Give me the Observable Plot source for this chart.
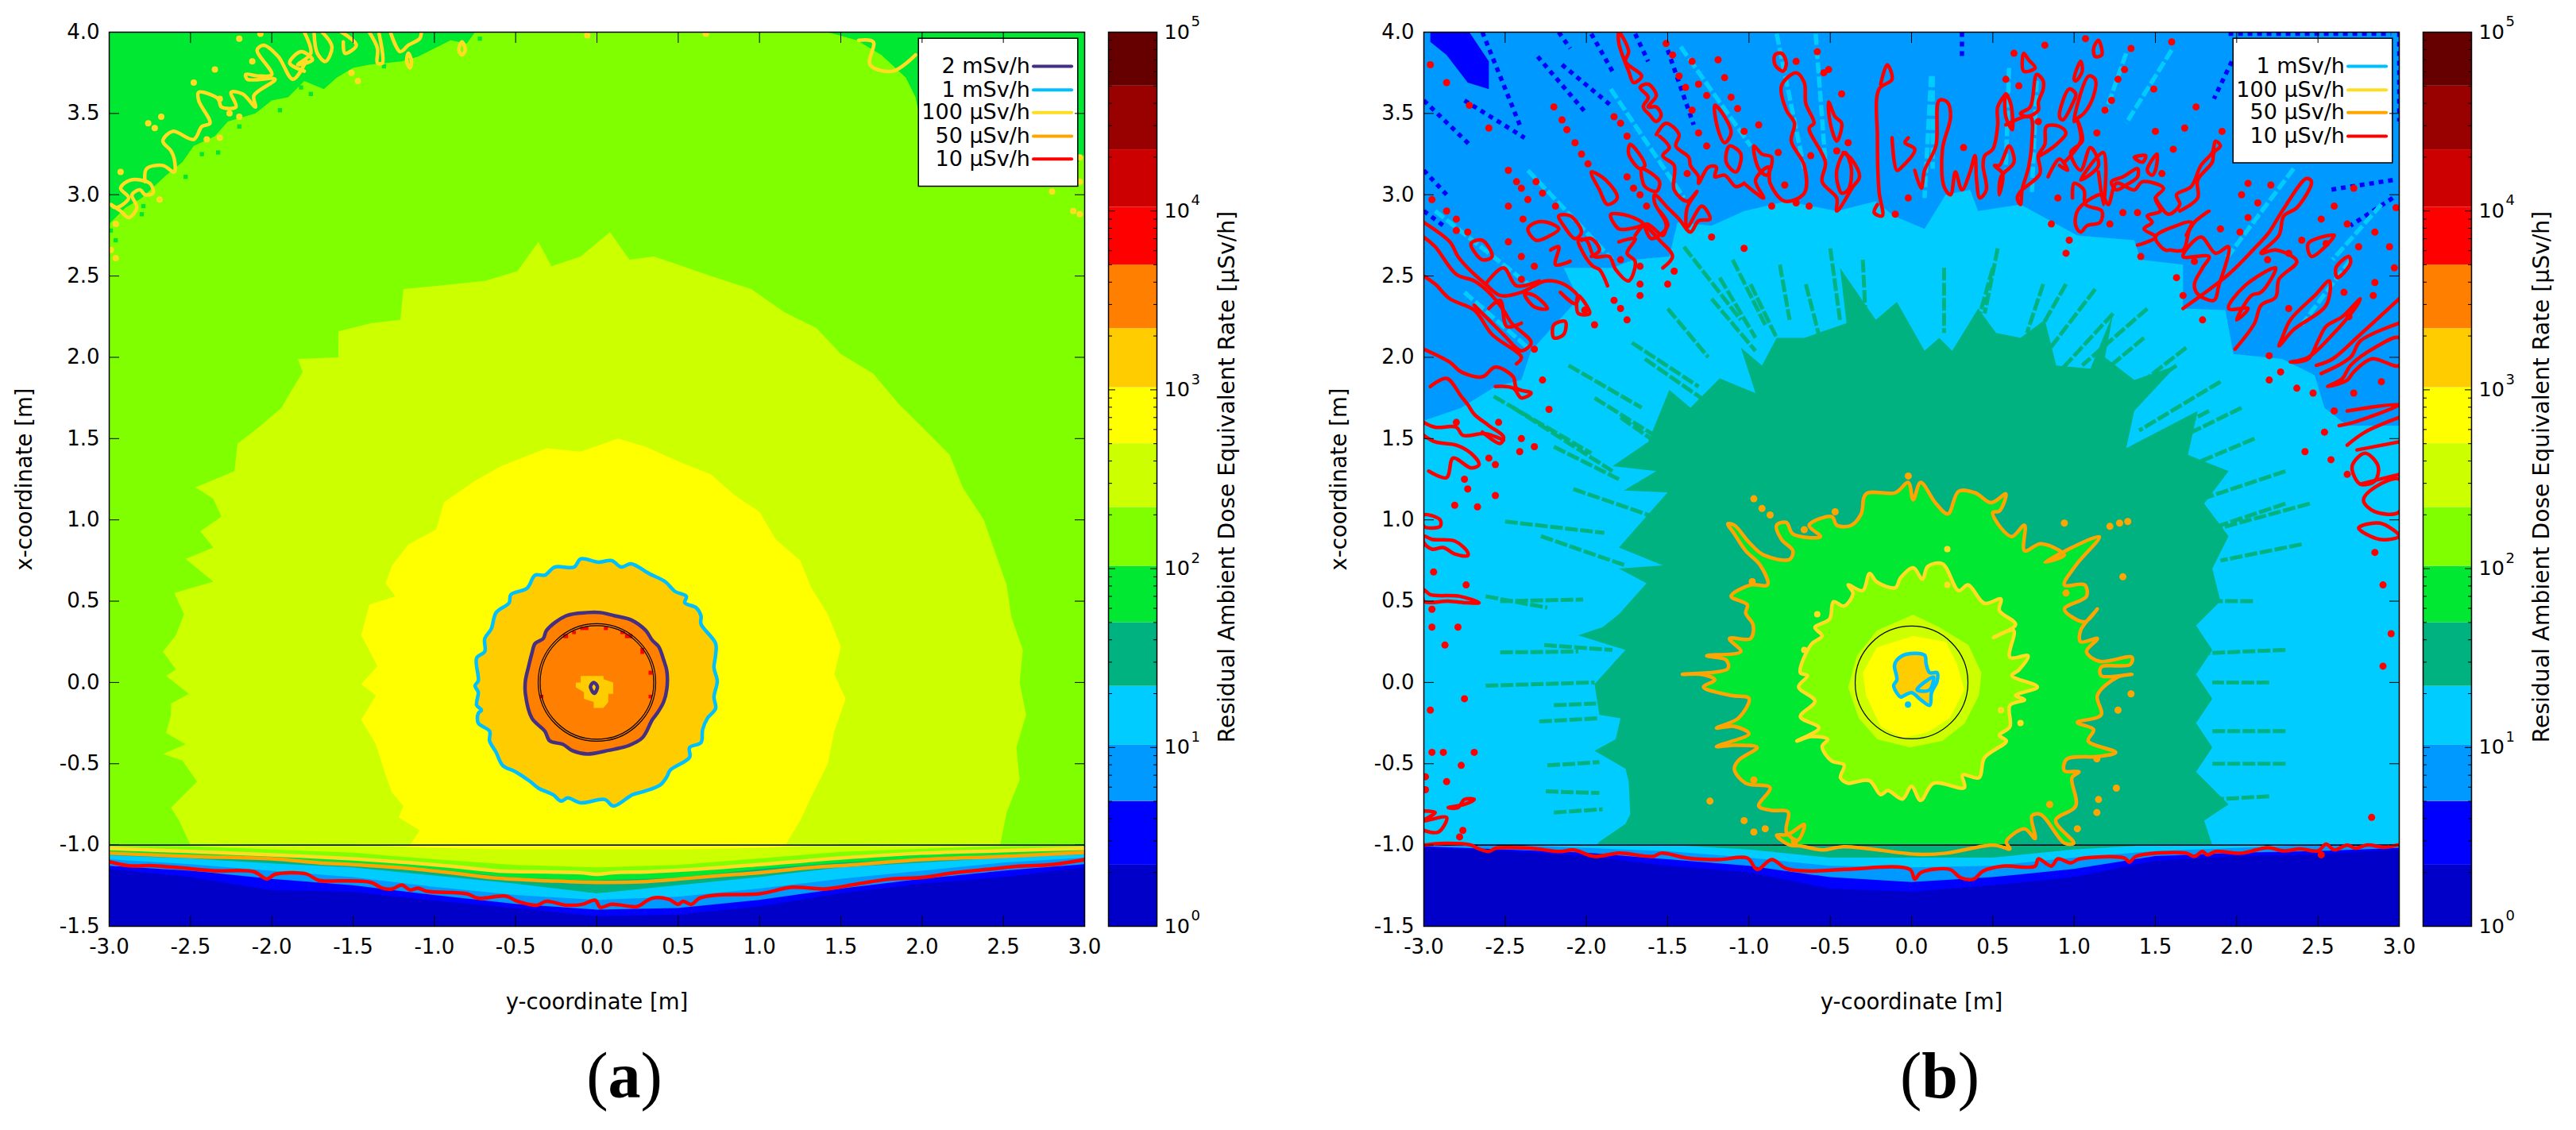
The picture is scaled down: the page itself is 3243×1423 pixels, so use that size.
<!DOCTYPE html>
<html><head><meta charset="utf-8">
<script src="https://cdn.jsdelivr.net/npm/d3@7"></script>
<script src="https://cdn.jsdelivr.net/npm/@observablehq/plot@0.6"></script>
<style>
html,body{margin:0;background:#fff;width:3243px;height:1423px;overflow:hidden}
#stage{position:relative;width:3243px;height:1423px}
#stage>svg,#stage>figure{position:absolute;top:0;margin:0}
.cap{position:absolute;top:1308px;font-family:"Liberation Serif",serif;font-size:82px;transform:translateX(-50%);color:#000}
</style></head><body><div id="stage"></div>
<script>
// ---- axes and colour scale ----
const xTicks=[-3,-2.5,-2,-1.5,-1,-0.5,0,0.5,1,1.5,2,2.5,3];
const yTicks=[-1.5,-1,-0.5,0,0.5,1,1.5,2,2.5,3,3.5,4];
const cbLevels=[1,2.2,5,10.3,22,50,103,220,500,1030,2200,5000,10500,22000,50000,100000];
const cbColors=["#0000c8","#0000ff","#0099ff","#00ccff","#00b27f","#00e832","#7fff00","#ccff00","#ffff00","#ffcc00","#ff7f00","#ff0000","#cc0000","#990000","#660000"];
const cbMajor=[1,10,100,1000,10000,100000];
const cbExponents=["0","1","2","3","4","5"];
const cbMinor=[2,3,4,5,6,7,8,9,20,30,40,50,60,70,80,90,200,300,400,500,600,700,800,900,2000,3000,4000,5000,6000,7000,8000,9000,20000,30000,40000,50000,60000,70000,80000,90000];
const legendA=["2 mSv/h","1 mSv/h","100 μSv/h","50 μSv/h","10 μSv/h"];
const legendAColors=["#452f82","#00bfff","#ffdd22","#ffa500","#ff0000"];
const legendARows=[3.79,3.645,3.505,3.36,3.22];
const legendB=["1 mSv/h","100 μSv/h","50 μSv/h","10 μSv/h"];
const legendBColors=["#00bfff","#ffdd22","#ffa500","#ff0000"];
const legendBRows=[3.79,3.645,3.505,3.36];
const PURPLE="#452f82",SKY="#00bfff",YEL="#ffdd22",ORG="#ffa500",RED="#ff0000";

// ---- strip below the wall: band boundaries along y ----
const stripX=[-3,-2.5,-2,-1.5,-1,-0.5,0,0.5,1,1.5,2,2.5,3];
const aStrip=[
["#0000ff",[-1.15,-1.2,-1.28,-1.29,-1.345,-1.39,-1.44,-1.43,-1.38,-1.3,-1.24,-1.2,-1.14]],
["#0099ff",[-1.13,-1.16,-1.21,-1.25,-1.31,-1.365,-1.4,-1.39,-1.34,-1.27,-1.21,-1.16,-1.12]],
["#00ccff",[-1.09,-1.12,-1.16,-1.2,-1.26,-1.31,-1.34,-1.32,-1.27,-1.21,-1.16,-1.11,-1.08]],
["#00b27f",[-1.065,-1.085,-1.115,-1.14,-1.19,-1.24,-1.3,-1.25,-1.2,-1.14,-1.11,-1.08,-1.06]],
["#00e832",[-1.05,-1.065,-1.09,-1.11,-1.15,-1.205,-1.22,-1.205,-1.15,-1.11,-1.085,-1.06,-1.045]],
["#7fff00",[-1.035,-1.05,-1.065,-1.09,-1.13,-1.16,-1.175,-1.16,-1.125,-1.085,-1.06,-1.045,-1.03]],
["#ccff00",[-1,-1.01,-1.03,-1.05,-1.09,-1.125,-1.14,-1.125,-1.085,-1.045,-1.025,-1.01,-1]],
["#ffff00",[-1,-1,-1,-1,-1.02,-1.03,-1.03,-1.03,-1.02,-1,-1,-1,-1]]];
const bStrip=[
["#0000ff",[-1.02,-1.04,-1.07,-1.13,-1.17,-1.27,-1.29,-1.25,-1.2,-1.1,-1.07,-1.06,-1.03]],
["#0099ff",[-1.01,-1.03,-1.05,-1.09,-1.13,-1.2,-1.23,-1.2,-1.15,-1.07,-1.05,-1.04,-1.02]],
["#00ccff",[-1,-1,-1.02,-1.04,-1.08,-1.13,-1.14,-1.13,-1.08,-1.04,-1.02,-1,-1]],
["#00b27f",[-1,-1,-1,-1,-1.03,-1.08,-1.08,-1.08,-1.03,-1,-1,-1,-1]]];

// ---- panel (a) regions ----
const aCornerL=[[-3,4],[-3,2.82],[-2.9,2.92],[-2.8,2.98],[-2.65,3.12],[-2.55,3.2],[-2.48,3.3],[-2.35,3.36],[-2.27,3.45],[-2.1,3.5],[-2,3.58],[-1.9,3.6],[-1.8,3.7],[-1.68,3.65],[-1.6,3.72],[-1.5,3.78],[-1.4,3.8],[-1.2,3.82],[-1.1,3.85],[-1,3.9],[-0.9,3.95],[-0.8,3.93],[-0.75,4]];
const aCornerR=[[1.42,4],[1.6,3.95],[1.75,3.86],[1.9,3.72],[1.96,3.6],[2,3.4],[2.3,3.1],[2.86,3.05],[2.92,3.15],[3,3.25],[3,4]];
const aDarkCells=[[-2.54,3.81],[-2.51,3.75],[-2.48,3.69],[-2.17,3.91],[-1.71,3.76],[-1.82,3.66],[-1.51,3.86],[-1.31,3.79],[-0.84,3.99],[-0.72,3.96],[-2.33,3.26],[-2.53,3.26],[-2.53,3.11],[-2.8,2.88],[-2.79,2.93],[-2.96,2.72],[-2.99,2.78],[-2.43,3.25],[-2.2,3.42],[-1.95,3.52],[-1.76,3.62]];
const aBand220=[[-2.5,-1],[-2.57,-0.85],[-2.62,-0.77],[-2.46,-0.61],[-2.55,-0.48],[-2.67,-0.44],[-2.53,-0.38],[-2.65,-0.31],[-2.62,-0.2],[-2.62,-0.13],[-2.51,-0.07],[-2.65,0.04],[-2.59,0.08],[-2.67,0.19],[-2.59,0.29],[-2.54,0.42],[-2.6,0.55],[-2.36,0.62],[-2.53,0.76],[-2.36,0.83],[-2.44,0.93],[-2.31,1.02],[-2.36,1.13],[-2.47,1.2],[-2.23,1.3],[-2.21,1.47],[-2.08,1.57],[-1.94,1.69],[-1.9,1.76],[-1.81,1.91],[-1.84,1.99],[-1.59,2],[-1.59,2.16],[-1.39,2.21],[-1.21,2.23],[-1.19,2.42],[-0.99,2.44],[-0.69,2.47],[-0.49,2.53],[-0.36,2.71],[-0.28,2.56],[-0.1,2.62],[0.08,2.77],[0.2,2.6],[0.35,2.62],[0.5,2.57],[0.7,2.5],[0.95,2.42],[1.15,2.28],[1.35,2.18],[1.5,2.02],[1.7,1.9],[1.85,1.72],[2.02,1.55],[2.17,1.4],[2.25,1.2],[2.38,1],[2.45,0.8],[2.52,0.6],[2.55,0.4],[2.62,0.2],[2.6,0],[2.64,-0.2],[2.58,-0.4],[2.6,-0.6],[2.52,-0.8],[2.48,-1]];
const aBand500=[[-1.15,-1],[-1.09,-0.91],[-1.22,-0.83],[-1.19,-0.76],[-1.26,-0.68],[-1.3,-0.57],[-1.36,-0.38],[-1.45,-0.23],[-1.36,-0.08],[-1.45,-0.01],[-1.35,0.1],[-1.45,0.29],[-1.4,0.48],[-1.24,0.53],[-1.3,0.61],[-1.26,0.72],[-1.16,0.85],[-0.99,0.94],[-0.94,1.11],[-0.75,1.24],[-0.59,1.33],[-0.31,1.44],[-0.1,1.42],[0.13,1.5],[0.3,1.45],[0.5,1.36],[0.7,1.28],[0.85,1.15],[1,1.05],[1.1,0.88],[1.25,0.75],[1.32,0.58],[1.42,0.42],[1.5,0.22],[1.46,0.05],[1.53,-0.1],[1.46,-0.3],[1.42,-0.5],[1.32,-0.7],[1.25,-0.85],[1.16,-1]];
const aContour1m=[[-0.1,0.76],[0.01,0.74],[0.09,0.75],[0.15,0.71],[0.21,0.73],[0.32,0.67],[0.42,0.62],[0.48,0.56],[0.55,0.53],[0.54,0.49],[0.61,0.46],[0.64,0.41],[0.64,0.36],[0.73,0.24],[0.73,0.17],[0.72,0.09],[0.74,0.01],[0.72,-0.09],[0.73,-0.16],[0.68,-0.22],[0.65,-0.29],[0.64,-0.37],[0.57,-0.4],[0.57,-0.46],[0.45,-0.54],[0.43,-0.58],[0.39,-0.63],[0.29,-0.67],[0.22,-0.69],[0.1,-0.76],[0.05,-0.72],[-0.1,-0.74],[-0.18,-0.71],[-0.22,-0.73],[-0.27,-0.69],[-0.36,-0.65],[-0.41,-0.61],[-0.5,-0.55],[-0.58,-0.51],[-0.62,-0.43],[-0.66,-0.36],[-0.66,-0.3],[-0.73,-0.25],[-0.73,-0.19],[-0.71,-0.17],[-0.74,-0.14],[-0.73,-0.06],[-0.75,-0.02],[-0.73,0.01],[-0.74,0.15],[-0.69,0.19],[-0.69,0.27],[-0.65,0.33],[-0.62,0.43],[-0.54,0.49],[-0.53,0.54],[-0.43,0.58],[-0.38,0.66],[-0.32,0.66],[-0.26,0.71],[-0.14,0.71]];
const aContour2m=[[-0.06,0.43],[0.02,0.43],[0.11,0.41],[0.21,0.385],[0.3,0.32],[0.34,0.26],[0.38,0.22],[0.41,0.14],[0.43,0.07],[0.43,-0.04],[0.41,-0.12],[0.37,-0.19],[0.34,-0.23],[0.28,-0.34],[0.19,-0.39],[0.11,-0.41],[0.06,-0.42],[-0.06,-0.44],[-0.15,-0.42],[-0.21,-0.38],[-0.29,-0.36],[-0.32,-0.3],[-0.4,-0.22],[-0.44,-0.07],[-0.44,0.01],[-0.42,0.1],[-0.4,0.18],[-0.38,0.24],[-0.33,0.27],[-0.31,0.32],[-0.19,0.41]];
const aCoreBlob=[[-0.1,0.04],[0.04,0.04],[0.04,0.02],[0.1,0],[0.1,-0.07],[0.07,-0.07],[0.07,-0.12],[0.04,-0.157],[-0.02,-0.157],[-0.02,-0.12],[-0.08,-0.1],[-0.08,-0.06],[-0.13,-0.03],[-0.13,0],[-0.1,0]];
const aCoreContour=[[-0.02,0],[0.003,-0.026],[-0.016,-0.067],[-0.04,-0.026]];
const aRedCells=[[-0.1,-0.05,0.32,0.34],[0.045,0.07,0.32,0.34],[-0.15,-0.127,0.295,0.315],[-0.205,-0.175,0.27,0.295],[0.147,0.175,0.295,0.315],[0.175,0.22,0.27,0.295],[0.27,0.293,0.173,0.21],[0.32,0.342,0.045,0.07],[0.32,0.342,-0.1,-0.078],[-0.35,-0.327,-0.1,-0.078]];
// wall-strip contours in (a)
const aRed10=[[-3,-1.103],[-2.88,-1.127],[-2.73,-1.127],[-2.56,-1.14],[-2.36,-1.158],[-2.11,-1.164],[-2.03,-1.209],[-1.98,-1.18],[-1.79,-1.177],[-1.71,-1.218],[-1.58,-1.22],[-1.39,-1.23],[-1.32,-1.265],[-1.26,-1.27],[-1.2,-1.246],[-1.15,-1.276],[-1.1,-1.265],[-1.05,-1.284],[-0.8,-1.3],[-0.73,-1.327],[-0.56,-1.314],[-0.49,-1.346],[-0.37,-1.37],[-0.31,-1.346],[-0.19,-1.37],[-0.09,-1.365],[-0.01,-1.34],[0.02,-1.383],[0.09,-1.365],[0.21,-1.378],[0.25,-1.378],[0.34,-1.327],[0.44,-1.333],[0.5,-1.365],[0.53,-1.346],[0.58,-1.365],[0.63,-1.327],[0.73,-1.308],[1,-1.3],[1.2,-1.26],[1.4,-1.27],[1.6,-1.24],[1.8,-1.21],[2,-1.2],[2.2,-1.17],[2.4,-1.15],[2.6,-1.13],[2.8,-1.12],[3,-1.09]];
const aOrange50=[[-3,-1.05],[-2.5,-1.07],[-2,-1.085],[-1.7,-1.11],[-1.5,-1.12],[-1.2,-1.14],[-0.9,-1.17],[-0.6,-1.205],[-0.3,-1.22],[0,-1.23],[0.3,-1.225],[0.5,-1.21],[0.73,-1.19],[1,-1.17],[1.3,-1.14],[1.6,-1.12],[2,-1.09],[2.5,-1.07],[3,-1.045]];
const aYellow100=[[-3,-1.02],[-2.5,-1.04],[-2,-1.06],[-1.5,-1.085],[-1.2,-1.105],[-0.9,-1.13],[-0.6,-1.16],[-0.3,-1.165],[-0.1,-1.17],[0,-1.18],[0.1,-1.17],[0.3,-1.165],[0.6,-1.15],[1,-1.12],[1.5,-1.08],[2,-1.05],[2.5,-1.035],[3,-1.02]];
const aYellowPaths=[
[[-2.78,3.08],[-2.77,3.16],[-2.67,3.18],[-2.6,3.14],[-2.6,3.22],[-2.62,3.27],[-2.67,3.33],[-2.61,3.39],[-2.48,3.34],[-2.43,3.42],[-2.38,3.44],[-2.45,3.58],[-2.45,3.63],[-2.33,3.59],[-2.31,3.54],[-2.22,3.54],[-2.25,3.63],[-2.18,3.62],[-2.1,3.54],[-2.11,3.61],[-1.98,3.71],[-2.15,3.71],[-2.16,3.74],[-2.08,3.73],[-2,3.74],[-2.09,3.89],[-2.05,3.92],[-1.96,3.85],[-1.87,3.71],[-1.79,3.82]],
[[-1.8,4],[-1.76,3.87],[-1.84,3.8],[-1.75,3.83],[-1.82,3.88],[-1.89,3.81],[-1.8,3.76]],
[[-1.69,4],[-1.63,3.91],[-1.67,3.82],[-1.72,3.87],[-1.74,4]],
[[-1.57,4],[-1.48,3.92],[-1.55,3.87],[-1.56,3.94]],
[[-1.4,4],[-1.35,3.9],[-1.35,3.81],[-1.32,3.81],[-1.34,3.99]],
[[-1.27,4],[-1.21,3.88],[-1.16,3.92],[-1.09,3.96],[-1.08,4]],
[[1.61,3.95],[1.7,3.94],[1.68,3.8],[1.82,3.76],[1.96,3.86]]];
const aYellowLoops=[
[[-2.99,2.94],[-2.96,2.92],[-2.88,2.98],[-2.93,3.04],[-2.87,3.09],[-2.75,3.07],[-2.73,3.01],[-2.78,3],[-2.81,3.03],[-2.86,3],[-2.83,2.92],[-2.88,2.86],[-2.93,2.9]],
[[-1.16,3.87],[-1.14,3.82],[-1.15,3.78],[-1.17,3.82]],
[[-0.83,3.94],[-0.81,3.89],[-0.83,3.86],[-0.85,3.89]]];
const aYellowDots=[[-2.2,3.96],[-2.07,3.99],[-2.12,3.82],[-2.35,3.77],[-2.48,3.69],[-2.32,3.59],[-2.2,3.48],[-2.26,3.5],[-2.68,3.48],[-2.76,3.44],[-2.72,3.41],[-2.32,3.35],[-2.4,3.34],[-2.93,3.14],[-2.69,2.97],[-2.96,2.82],[-2.96,2.61],[-2.99,2.66],[-1.47,3.7],[-1.51,3.75],[-0.06,3.98],[0.67,3.99],[2.97,3.23],[2.97,3.08],[2.93,2.9],[2.97,2.88],[2.8,3.02]];

// ---- panel (b) regions ----
const bBand10=[[-3,1.61],[-2.77,1.69],[-2.56,1.82],[-2.4,1.86],[-2.34,2.04],[-2.05,2.36],[-2.14,2.55],[-1.84,2.55],[-1.71,2.6],[-1.49,2.62],[-1.44,2.83],[-1.23,2.81],[-1.03,2.9],[-0.77,2.96],[-0.46,2.9],[-0.22,2.96],[-0.11,2.87],[0.08,2.79],[0.21,3],[0.36,3.03],[0.41,2.9],[0.67,2.94],[1.02,2.75],[1.37,2.72],[1.41,2.6],[1.67,2.57],[1.67,2.3],[1.93,2.29],[1.98,2.02],[2.28,1.99],[2.48,1.89],[2.54,1.69],[2.68,1.58],[3,1.58],[3,-1],[-3,-1]];
const bBand22=[[-1.94,-1],[-1.92,-0.98],[-1.76,-0.87],[-1.73,-0.81],[-1.74,-0.61],[-1.76,-0.53],[-1.95,-0.42],[-1.82,-0.35],[-1.79,-0.22],[-1.92,-0.2],[-1.95,-0.01],[-1.85,0.1],[-1.76,0.2],[-2.05,0.29],[-1.9,0.34],[-1.8,0.42],[-1.63,0.61],[-1.8,0.7],[-1.53,0.72],[-1.8,0.83],[-1.5,1.17],[-1.77,1.18],[-1.57,1.3],[-1.84,1.33],[-1.62,1.48],[-1.49,1.8],[-1.36,1.69],[-1.18,1.87],[-0.96,1.78],[-1.05,2.06],[-0.92,1.95],[-0.83,2.12],[-0.66,2.12],[-0.4,2.21],[-0.44,2.55],[-0.22,2.23],[-0.09,2.34],[0.08,2.04],[0.17,2.12],[0.25,2.04],[0.41,2.3],[0.52,2.15],[0.67,2.12],[0.82,2.23],[0.89,1.95],[1.1,1.93],[1.24,2.27],[1.19,2],[1.37,1.86],[1.63,1.95],[1.37,1.67],[1.32,1.44],[1.76,1.67],[1.7,1.4],[1.95,1.3],[1.8,1.1],[1.95,0.9],[1.85,0.7],[1.9,0.5],[1.75,0.35],[1.85,0.2],[1.75,0.05],[1.85,-0.1],[1.75,-0.25],[1.85,-0.4],[1.75,-0.55],[1.95,-0.75],[1.8,-0.85],[1.85,-1]];
const bOrange50=[[-0.75,-1],[-0.83,-0.94],[-0.76,-0.935],[-0.66,-0.874],[-0.7,-0.97],[-0.77,-0.92],[-0.76,-0.796],[-0.86,-0.787],[-0.94,-0.76],[-0.87,-0.647],[-1.02,-0.62],[-1.09,-0.534],[-1.065,-0.48],[-0.95,-0.4],[-1.09,-0.386],[-1.2,-0.394],[-1,-0.316],[-1.09,-0.27],[-1.2,-0.28],[-1.065,-0.22],[-1,-0.098],[-1.11,-0.08],[-1.28,-0.028],[-1.21,0.016],[-1.29,0.05],[-1.41,0.05],[-1.13,0.085],[-1.14,0.138],[-1.26,0.164],[-1.05,0.19],[-1.12,0.27],[-0.99,0.27],[-0.975,0.356],[-1.02,0.426],[-1.01,0.478],[-1.11,0.53],[-0.99,0.6],[-0.886,0.6],[-0.93,0.72],[-1.02,0.81],[-1.09,0.914],[-1.13,0.976],[-1.09,0.967],[-1,0.862],[-0.91,0.784],[-0.75,0.757],[-0.73,0.81],[-0.8,0.88],[-0.83,0.967],[-0.77,0.984],[-0.73,0.914],[-0.56,0.897],[-0.63,0.967],[-0.49,1.02],[-0.46,0.967],[-0.37,0.967],[-0.31,1.037],[-0.28,1.16],[-0.1,1.167],[-0.02,1.23],[0.01,1.124],[0.056,1.23],[0.146,1.106],[0.224,1.037],[0.29,1.176],[0.39,1.167],[0.49,1.106],[0.58,1.16],[0.54,1.054],[0.5,1.045],[0.55,0.95],[0.617,0.897],[0.695,0.967],[0.695,0.81],[0.796,0.853],[0.94,0.784],[0.82,0.74],[1.155,0.897],[1.01,0.72],[0.94,0.6],[1.065,0.6],[1.076,0.53],[0.94,0.452],[1.065,0.373],[1.143,0.452],[1.04,0.32],[1.04,0.25],[1.143,0.27],[1.076,0.19],[1.155,0.13],[1.356,0.155],[1.345,0.11],[1.166,0.094],[1.166,0.042],[1.356,0.05],[1.267,0.033],[1.143,-0.08],[1.166,-0.2],[1.02,-0.246],[1.12,-0.29],[1.087,-0.36],[1.256,-0.43],[1.155,-0.455],[0.953,-0.473],[0.94,-0.543],[1.03,-0.55],[0.987,-0.586],[1.01,-0.76],[0.886,-0.848],[0.998,-0.988],[0.94,-0.988],[0.796,-0.813],[0.74,-0.82],[0.76,-0.96],[0.695,-0.9],[0.583,-0.98],[0.605,-1.023],[0.505,-1],[0.213,-1.05],[0.034,-1.057],[-0.415,-1.01],[-0.55,-1.03],[-0.684,-1.005]];
const bYellow100=[[-0.706,-0.36],[-0.57,-0.28],[-0.684,-0.21],[-0.594,-0.115],[-0.695,-0.028],[-0.64,0.042],[-0.684,0.06],[-0.617,0.234],[-0.55,0.286],[-0.594,0.339],[-0.504,0.39],[-0.48,0.496],[-0.415,0.47],[-0.36,0.548],[-0.39,0.6],[-0.3,0.565],[-0.258,0.67],[-0.213,0.618],[-0.1,0.583],[-0.067,0.644],[0.011,0.705],[0.067,0.635],[0.1,0.714],[0.19,0.73],[0.29,0.565],[0.348,0.6],[0.448,0.487],[0.55,0.513],[0.54,0.443],[0.64,0.356],[0.504,0.277],[0.628,0.32],[0.605,0.155],[0.717,0.164],[0.66,0.077],[0.617,0.042],[0.774,-0.028],[0.64,-0.08],[0.695,-0.106],[0.605,-0.141],[0.605,-0.272],[0.54,-0.325],[0.583,-0.36],[0.448,-0.464],[0.415,-0.586],[0.314,-0.569],[0.325,-0.647],[0.135,-0.62],[0.056,-0.726],[0,-0.639],[-0.056,-0.717],[-0.146,-0.665],[-0.19,-0.69],[-0.258,-0.604],[-0.348,-0.613],[-0.39,-0.62],[-0.437,-0.586],[-0.415,-0.508],[-0.493,-0.482],[-0.55,-0.394],[-0.516,-0.35],[-0.617,-0.333]];
const bBand220=[[0.01,0.417],[0.17,0.34],[0.35,0.23],[0.43,0.06],[0.415,-0.08],[0.325,-0.255],[0.19,-0.36],[-0.01,-0.4],[-0.21,-0.35],[-0.325,-0.22],[-0.39,-0.03],[-0.336,0.164],[-0.213,0.32]];
const bBand500=[[0.01,0.286],[0.213,0.25],[0.28,0.11],[0.325,-0.045],[0.235,-0.22],[0.1,-0.307],[-0.056,-0.342],[-0.19,-0.272],[-0.28,-0.08],[-0.3,0.06],[-0.213,0.216]];
const bSky1m=[[-0.09,0.138],[-0.034,0.173],[0.08,0.168],[0.09,0.112],[0.112,0.06],[0.157,0.06],[0.157,0.007],[0.123,-0.063],[0.112,-0.141],[0.056,-0.106],[0,-0.063],[-0.045,-0.08],[-0.067,-0.089],[-0.11,-0.019],[-0.09,0.016],[-0.105,0.103]];
const bSkyInner=[[0.034,-0.045],[0.1,0.016],[0.135,0.033],[0.112,-0.045],[0.067,-0.054]];
const bSkyDots=[[-0.022,-0.136]];
const bGreenRays=[[-1.4,2.68,-1.05,2.23],[-0.81,2.57,-0.75,2.23],[-0.5,2.67,-0.44,2.23],[-1.18,2.49,-0.96,2.12],[-1.72,2.09,-1.31,1.82],[-2.11,1.95,-1.66,1.69],[-2.57,1.76,-1.97,1.41],[-2.45,1.69,-1.84,1.3],[-1.79,1.63,-1.36,1.33],[-1.64,1.99,-1.18,1.67],[-1.23,2.36,-0.96,2.04],[-0.99,2.45,-0.83,2.12],[-0.65,2.45,-0.55,2.06],[0.53,2.67,0.45,2.27],[0.5,2.55,0.41,2.23],[0.81,2.45,0.71,2.15],[1.13,2.42,0.84,2.04],[1.24,2.27,0.89,1.89],[1.43,2.12,1,1.76],[1.69,2.06,1.19,1.67],[1.63,1.95,1.11,1.59],[2.03,1.69,1.5,1.43],[2.11,1.5,1.54,1.26],[1.83,1.67,1.28,1.39],[-2.62,-0.02,-1.95,0],[-2.53,0.185,-2.05,0.19],[-2.53,0.5,-2.02,0.51],[-2.62,0.53,-2.24,0.46],[-2.26,0.23,-1.84,0.2],[-2.2,-0.14,-1.94,-0.13],[-2.29,-0.24,-1.92,-0.22],[-2.24,-0.51,-1.92,-0.49],[-2.25,-0.67,-1.92,-0.68],[-2.2,-0.8,-1.9,-0.78],[-2.5,0.99,-1.89,0.92],[-2.28,0.9,-1.76,0.72],[-2.08,1.19,-1.59,1.02],[2.1,0.5,1.8,0.5],[2.3,0.2,1.8,0.18],[2.2,0,1.85,0],[2.3,-0.3,1.85,-0.3],[2.3,-0.5,1.85,-0.5],[2.2,-0.7,1.85,-0.72],[2.4,0.85,1.9,0.75],[2.3,1.1,1.85,0.95],[-1.5,2.3,-1.25,2],[-1.95,1.75,-1.55,1.5],[-2.2,1.45,-1.8,1.25],[-1.1,2.6,-0.9,2.2],[-0.3,2.6,-0.28,2.2],[0.2,2.55,0.2,2.15],[0.95,2.45,0.75,2.1],[1.45,2.3,1.05,1.95],[1.9,1.85,1.4,1.55],[2.3,1.3,1.7,1.1],[2.45,1.1,1.9,0.95]];
const bSkyRays=[[-0.83,3.99,-0.66,3.16],[-0.59,3.99,-0.53,3.2],[0.13,3.73,0.13,3.16],[-1.85,3.65,-1.4,2.98],[-1.42,3.91,-0.99,3.3],[-2.36,3.15,-1.84,2.6],[-2.93,2.9,-2.32,2.42],[0.12,3.73,0.08,2.98],[0.6,3.78,0.58,3.16],[1.6,3.89,1.32,3.44],[1.32,3.87,1.19,3.5],[2.35,3.16,1.93,2.6],[2.89,2.94,2.59,2.6],[0.77,3.7,0.74,3],[-2.75,2.4,-2.35,2.05],[2.7,2.6,2.4,2.2]];
const bBlueBlock=[[-2.96,4],[-2.72,4],[-2.6,3.82],[-2.6,3.65],[-2.73,3.69],[-2.86,3.86],[-2.96,3.94]];
const bBlueRays=[[-2.64,4,-2.41,3.43],[-2.17,4,-2.1,3.9],[-2.3,3.85,-2,3.5],[-2.15,3.8,-1.85,3.55],[-3,3.15,-2.86,3],[-3,2.9,-2.88,2.81],[-3,3.58,-2.71,3.3],[-2.75,3.58,-2.38,3.35],[-1.5,3.89,-1.34,3.43],[-1.7,3.99,-1.62,3.82],[-1.97,3.99,-1.84,3.76],[0.31,4,0.31,3.83],[1.97,3.82,1.86,3.59],[3,4,3,3.45],[2.96,3.09,2.57,3.03],[2.96,2.98,2.7,2.81],[1.95,3.99,2.95,3.99]];
const bRedBase=[[-3,-1],[-2.87,-0.99],[-2.71,-1],[-2.67,-1.02],[-2.6,-1.04],[-2.56,-1.02],[-2.34,-1.02],[-2.16,-1.04],[-2.08,-1.03],[-1.95,-1.07],[-1.8,-1.05],[-1.59,-1.07],[-1.54,-1.05],[-1.38,-1.08],[-1.19,-1.09],[-1.01,-1.08],[-0.95,-1.15],[-0.86,-1.09],[-0.77,-1.145],[-0.62,-1.16],[-0.41,-1.15],[-0.01,-1.15],[0.02,-1.21],[0.056,-1.17],[0.235,-1.15],[0.3,-1.2],[0.38,-1.21],[0.44,-1.16],[0.56,-1.13],[0.76,-1.13],[0.78,-1.085],[0.86,-1.13],[0.9,-1.085],[0.98,-1.11],[1.03,-1.086],[1.31,-1.08],[1.34,-1.105],[1.38,-1.07],[1.69,-1.05],[1.74,-1.07],[1.79,-1.04],[1.82,-1.06],[1.87,-1.04],[2.03,-1.05],[2.19,-1.016],[2.29,-1.036],[2.39,-1.024],[2.5,-1.036],[2.55,-0.995],[2.6,-1.03],[2.68,-1],[2.73,-1.02],[2.8,-1],[2.91,-1.013],[2.99,-1]];
const bRedLoops=[
[[-1.8,4],[-1.74,3.88],[-1.76,3.82],[-1.66,3.73],[-1.71,3.69],[-1.74,3.76],[-1.8,3.93]],
[[-1.67,3.66],[-1.62,3.68],[-1.57,3.61],[-1.62,3.54],[-1.57,3.54],[-1.54,3.49],[-1.57,3.45],[-1.61,3.49],[-1.65,3.54],[-1.62,3.6]],
[[-1.73,3.31],[-1.64,3.18],[-1.67,3.16],[-1.74,3.25]],
[[-1.66,3.16],[-1.55,3.08],[-1.57,3.02],[-1.64,3.05],[-1.66,3.11]],
[[-1.97,3.14],[-1.88,3.09],[-1.81,2.98],[-1.87,2.94],[-1.92,3.03]],
[[-1.85,2.88],[-1.74,2.87],[-1.65,2.82],[-1.74,2.79],[-1.8,2.79],[-1.85,2.86]],
[[-0.84,3.86],[-0.8,3.87],[-0.77,3.81],[-0.79,3.76],[-0.84,3.8]],
[[-0.51,3.57],[-0.47,3.48],[-0.43,3.44],[-0.46,3.33],[-0.5,3.44]],
[[-0.46,3.15],[-0.41,3.26],[-0.37,3.16],[-0.39,3.03],[-0.43,3.01],[-0.45,3.05]],
[[-1.21,3.55],[-1.15,3.48],[-1.11,3.38],[-1.15,3.32],[-1.19,3.4]],
[[-1.12,3.3],[-1.05,3.25],[-1.08,3.14],[-1.14,3.2]],
[[-0.97,3.3],[-0.92,3.25],[-0.86,3.23],[-0.89,3.12],[-0.94,3.16]],
[[-2.05,2.38],[-2,2.32],[-1.98,2.27],[-2.05,2.27]],
[[-2.38,2.39],[-2.32,2.38],[-2.24,2.3],[-2.32,2.31]],
[[-2.2,2.2],[-2.13,2.22],[-2.14,2.14],[-2.2,2.12]],
[[-2.36,2.79],[-2.31,2.83],[-2.24,2.83],[-2.17,2.79],[-2.24,2.74],[-2.31,2.72]],
[[-2.17,2.87],[-2.1,2.87],[-2.03,2.77],[-2.07,2.73],[-2.14,2.81]],
[[-2.71,2.7],[-2.64,2.6],[-2.58,2.62],[-2.64,2.72]],
[[-3,1.03],[-2.9,1],[-2.9,0.96],[-3,0.96]],
[[-3,0.9],[-2.95,0.88],[-2.81,0.87],[-2.73,0.8],[-2.73,0.78],[-2.81,0.79],[-2.88,0.83],[-2.95,0.82],[-3,0.86]],
[[-3,0.57],[-2.96,0.54],[-2.78,0.53],[-2.66,0.49],[-2.73,0.49],[-2.85,0.5],[-3,0.5]],
[[-2.85,-0.77],[-2.79,-0.77],[-2.75,-0.72],[-2.69,-0.72],[-2.75,-0.75]],
[[0.72,3.83],[0.76,3.78],[0.69,3.76],[0.69,3.87]],
[[0.58,3.62],[0.61,3.56],[0.62,3.4],[0.58,3.48]],
[[0.54,3.18],[0.6,3.3],[0.63,3.2],[0.55,3.11],[0.54,3],[0.56,3.13],[0.51,3.18]],
[[0.67,3.5],[0.73,3.54],[0.77,3.74],[0.81,3.7],[0.81,3.65],[0.78,3.57],[0.78,3.52],[0.71,3.48]],
[[1,3.71],[1.04,3.82],[1.05,3.76],[1.01,3.7]],
[[0.91,3.48],[0.97,3.65],[1.01,3.62],[0.99,3.56],[0.93,3.46]],
[[1,3.45],[1.09,3.73],[1.13,3.71],[1.12,3.61],[1.06,3.5],[1.02,3.47]],
[[1.15,3.95],[1.17,3.86],[1.13,3.85],[1.12,3.9]],
[[1.23,3.08],[1.3,3.11],[1.39,3.16],[1.39,3.11],[1.32,3.06],[1.26,3.03]],
[[1.37,3.23],[1.44,3.24],[1.42,3.2]],
[[1.45,3.15],[1.51,3.25],[1.5,3.15],[1.48,3.12]],
[[1.56,2.66],[1.5,2.74],[1.63,2.81],[1.72,2.83],[1.69,2.75],[1.74,2.83],[1.83,2.9],[1.72,2.81],[1.67,2.66],[1.59,2.66]],
[[1.67,2.62],[1.78,2.74],[1.87,2.64],[1.95,2.68],[1.89,2.44],[1.86,2.35],[1.76,2.39],[1.74,2.45],[1.79,2.55],[1.83,2.62]],
[[1.95,2.3],[2.05,2.44],[2.24,2.55],[2.15,2.4],[2.09,2.38],[2,2.23],[2.07,2.3]],
[[2.26,2.07],[2.35,2.17],[2.55,2.32],[2.57,2.47],[2.48,2.38],[2.33,2.23],[2.28,2.12]],
[[2.33,1.97],[2.44,2],[2.59,2.14],[2.74,2.32],[2.76,2.36],[2.65,2.25],[2.55,2.19],[2.5,2.1],[2.44,1.99]],
[[2.56,1.82],[2.65,1.87],[2.7,1.95],[2.85,2.06],[3,2.12],[3,1.95],[2.83,1.99],[2.72,1.91],[2.68,1.86]],
[[2.61,2.55],[2.69,2.62],[2.7,2.58],[2.62,2.49]],
[[2.44,2.7],[2.6,2.75],[2.46,2.62]],
[[2.71,1.33],[2.79,1.41],[2.87,1.33],[2.85,1.24],[2.76,1.22]],
[[2.78,1.12],[2.85,1.2],[3,1.25],[3,1.05],[2.85,1.05]],
[[2.75,0.95],[2.88,0.98],[3,0.9],[2.88,0.88]]];
const bRedPaths=[
[[-1.55,3.36],[-1.49,3.29],[-1.53,3.24],[-1.46,3.18],[-1.46,3.03],[-1.38,2.96],[-1.32,3.02],[-1.38,2.92],[-1.38,2.8],[-1.29,2.93],[-1.24,2.85],[-1.31,2.84],[-1.36,2.77],[-1.43,2.85],[-1.5,2.92],[-1.58,3],[-1.58,2.95],[-1.51,2.82],[-1.53,2.75],[-1.63,2.82],[-1.7,2.75]],
[[-1.57,3.37],[-1.51,3.44],[-1.43,3.37],[-1.45,3.3],[-1.37,3.23],[-1.36,3.18],[-1.31,3.11],[-1.31,3.07],[-1.25,3.17],[-1.2,3.17],[-1.21,3.11],[-1.15,3.12],[-1.08,3.05],[-1.03,3.07]],
[[-1.8,2.71],[-1.7,2.73],[-1.75,2.64],[-1.7,2.59],[-1.74,2.47],[-1.82,2.54],[-1.86,2.62],[-1.95,2.62],[-2,2.72],[-2.05,2.72],[-2.03,2.66],[-1.96,2.56],[-1.92,2.54],[-1.87,2.44]],
[[-1.55,2.9],[-1.5,2.81],[-1.6,2.73],[-1.64,2.81],[-1.55,2.72],[-1.47,2.62],[-1.53,2.55]],
[[-3,2.83],[-2.84,2.71],[-2.79,2.62],[-2.73,2.55],[-2.62,2.45],[-2.53,2.38],[-2.4,2.4],[-2.25,2.47],[-2.14,2.45],[-2.05,2.37],[-2.07,2.33],[-2.16,2.4]],
[[-3,2.74],[-2.93,2.68],[-2.8,2.51],[-2.69,2.47],[-2.6,2.4],[-2.51,2.29],[-2.46,2.21],[-2.34,2.09],[-2.4,2.04],[-2.51,2.14],[-2.6,2.23],[-2.69,2.32]],
[[-3,2.5],[-2.93,2.45],[-2.84,2.36],[-2.69,2.29],[-2.58,2.14],[-2.4,2],[-2.43,1.96]],
[[-3,2.05],[-2.84,1.97],[-2.77,1.91],[-2.64,1.88],[-2.56,1.94],[-2.45,1.88],[-2.43,1.81],[-2.34,1.78],[-2.4,1.75],[-2.45,1.81],[-2.56,1.82]],
[[-2.96,1.82],[-2.86,1.87],[-2.77,1.76],[-2.73,1.71],[-2.69,1.65],[-2.6,1.58],[-2.51,1.51],[-2.53,1.47],[-2.64,1.54]],
[[-3,1.6],[-2.93,1.57],[-2.8,1.57],[-2.76,1.52],[-2.62,1.53],[-2.51,1.49]],
[[-3,1.52],[-2.93,1.48],[-2.8,1.46],[-2.71,1.41],[-2.66,1.34],[-2.71,1.32],[-2.82,1.38],[-2.86,1.26],[-2.97,1.3]],
[[-2.03,2.72],[-1.97,2.73],[-1.92,2.66],[-1.97,2.62]],
[[-2.22,2.66],[-2.17,2.68],[-2.19,2.57],[-2.1,2.59]],
[[-2.62,2.45],[-2.51,2.55],[-2.43,2.44],[-2.29,2.47]],
[[-2.6,2.3],[-2.53,2.35],[-2.49,2.19],[-2.4,2.21]],
[[-0.42,3.26],[-0.37,3.22],[-0.32,3.11],[-0.36,3.05],[-0.46,2.9],[-0.46,2.98],[-0.55,3.08],[-0.53,3.2],[-0.63,3.41],[-0.6,3.44],[-0.65,3.56],[-0.66,3.69],[-0.71,3.75],[-0.8,3.67],[-0.77,3.52],[-0.72,3.44],[-0.74,3.33],[-0.66,3.18],[-0.66,3.01],[-0.78,2.96],[-0.87,3.07],[-0.88,3.17],[-0.96,3.09],[-0.91,2.98],[-0.97,3.02],[-1.03,3.07]],
[[-0.21,2.94],[-0.23,2.89],[-0.18,2.87],[-0.2,3.02],[-0.21,3.35],[-0.2,3.65],[-0.12,3.71],[-0.15,3.8],[-0.19,3.68]],
[[-0.12,3.35],[-0.09,3.15],[-0.06,3.17],[0.02,3.28],[-0.04,3.32],[-0.02,3.35]],
[[0.02,3.15],[0.06,3.04],[0.08,3.15],[0.15,3.3],[0.17,3.58],[0.22,3.57],[0.24,3.48],[0.19,3.28],[0.2,3.05],[0.24,3],[0.27,3.14],[0.31,3.03],[0.36,3.14],[0.39,3.24],[0.4,3.09],[0.42,2.98],[0.46,3.03],[0.44,3.18],[0.45,3.24],[0.5,3.28],[0.53,3.43],[0.53,3.54],[0.58,3.62]],
[[0.58,3.43],[0.73,3.48],[0.74,3.33],[0.72,3.17],[0.68,3.03],[0.67,2.94],[0.65,2.98],[0.67,3.02],[0.79,3.13],[0.78,3.24],[0.82,3.31],[0.83,3.42],[0.91,3.42],[0.95,3.38],[0.88,3.3],[0.79,3.24]],
[[0.84,3.11],[0.91,3.22],[0.96,3.15],[0.91,3.18]],
[[0.94,3.2],[1.04,3.33],[1.02,3.46],[1.05,3.33],[0.98,3.26],[1.04,3.15],[1.1,3.29],[1.15,3.18],[1.04,3.09],[1.18,3.26],[1.18,2.94],[1.15,3.14]],
[[0.99,2.98],[1,3.07],[1.06,3.03],[1.07,2.94],[1.17,2.9],[1.16,2.83],[1.08,2.81],[1.04,2.77],[1.01,2.81],[1.02,2.9],[1.11,2.98],[1.17,3],[1.21,2.94],[1.26,3.07],[1.37,3.03],[1.42,3.08],[1.55,3.04],[1.5,2.98],[1.53,2.9],[1.45,2.87],[1.48,2.83],[1.43,2.79],[1.5,2.74],[1.39,2.69]],
[[1.5,2.98],[1.58,2.88],[1.65,2.94],[1.63,3],[1.72,3.05],[1.78,3.18],[1.85,3.26],[1.87,3.33],[1.9,3.3],[1.86,3.26],[1.85,3.2],[1.76,3.09],[1.76,2.98],[1.65,2.9]],
[[1.67,2.3],[1.95,2.51],[2.1,2.66],[2.2,2.77],[2.28,2.9],[2.43,3.1],[2.46,3.08],[2.37,2.92],[2.29,2.87],[2.26,2.75],[2.15,2.64],[2.24,2.66],[2.37,2.59],[2.26,2.48],[2.24,2.37],[2.15,2.32],[2.11,2.21],[1.99,2.05]],
[[2.49,1.95],[2.59,1.99],[2.76,2.14],[3,2.36]],
[[2.52,1.9],[2.7,2],[2.76,2.1],[3,2.21]],
[[2.63,1.58],[2.72,1.6],[3,1.71],[2.68,1.67]],
[[2.68,1.46],[2.79,1.54],[3,1.63]],
[[3,1.48],[2.74,1.43]],
[[3,1.28],[2.76,1.22]],
[[-3,-0.79],[-2.93,-0.8],[-3,-0.85],[-2.86,-0.83],[-2.91,-0.92],[-3,-0.91]]];
const bRedDots=[[-0.58,3.88],[-0.51,3.77],[-1.19,3.83],[-1.15,3.72],[-1.11,3.6],[-1.07,3.53],[-1.03,3.39],[-1.35,3.82],[-1.39,3.66],[-1.43,3.73],[-1.31,3.68],[-1.26,3.61],[-1.35,3.52],[-1.31,3.38],[-1.26,3.3],[-1.38,3.13],[-1.47,3.86],[-1.51,3.93],[-2.2,3.54],[-2.15,3.46],[-2.12,3.4],[-2.07,3.32],[-2.03,3.25],[-1.99,3.19],[-1.83,3.48],[-1.79,3.44],[-1.75,3.36],[-1.75,3.11],[-1.71,3.04],[-1.67,3],[-1.63,2.93],[-2.48,3.15],[-2.43,3.08],[-2.4,3.04],[-2.31,3.08],[-2.36,2.97],[-2.27,3.01],[-2.19,2.93],[-2.39,2.85],[-2.48,2.93],[-2.72,3.55],[-2.6,3.41],[-2.86,3.69],[-2.96,3.8],[-2.95,2.97],[-2.86,2.9],[-2.8,2.85],[-2.8,2.78],[-2.73,2.77],[-2.48,2.71],[-2.4,2.62],[-2.32,2.56],[-2.4,2.48],[-2.01,2.29],[-1.95,2.2],[-1.83,2.35],[-1.79,2.3],[-1.75,2.23],[-1.67,2.45],[-1.67,2.38],[-1.5,2.45],[-1.46,2.53],[-1.67,2.56],[-1.79,2.6],[-1.23,2.74],[-1.03,2.67],[-0.78,3.06],[-0.71,2.95],[-0.63,2.93],[-0.86,2.93],[-0.62,3.24],[-0.82,3.26],[-0.46,3.27],[-0.39,3.32],[-0.43,3.62],[-0.54,3.75],[-0.71,3.82],[-0.1,2.88],[-0.02,2.98],[-0.94,3.43],[-2.32,2.05],[-2.27,1.86],[-2.4,1.5],[-2.32,1.45],[-2.41,1.42],[-2.6,1.38],[-2.56,1.34],[-2.75,1.25],[-2.23,1.68],[-2.54,1.6],[-2.8,1.6],[-2.73,1.19],[-2.81,1.09],[-2.67,1.08],[-2.56,1.15],[-2.94,0.68],[-2.74,0.6],[-2.95,0.45],[-2.95,0.34],[-2.79,0.34],[-2.87,0.23],[-2.75,-0.1],[-2.96,-0.17],[-2.95,-0.43],[-2.88,-0.43],[-2.69,-0.43],[-2.77,-0.51],[-2.99,-0.58],[-2.86,-0.61],[-2.99,-0.66],[-2.78,-0.95],[-2.76,-0.91],[0.58,3.71],[0.66,3.67],[0.63,3.87],[0.82,3.92],[1.07,3.96],[1.35,3.9],[1.31,3.77],[1.27,3.71],[1.23,3.58],[1.19,3.52],[1.14,3.38],[1.49,3.65],[1.6,3.94],[1.75,3.54],[1.68,3.41],[1.5,3.39],[1.91,3.39],[1.61,3.28],[1.54,3.13],[1.9,2.79],[2.02,2.77],[2.07,2.86],[2.13,2.95],[2.03,3],[2.07,3.07],[2.21,3.06],[2.52,2.85],[2.6,2.93],[2.68,2.82],[2.4,2.72],[2.75,2.68],[2.85,2.77],[2.94,2.68],[2.55,2.7],[2.98,2.92],[2.72,3.04],[2.32,2.64],[2.19,2.6],[2.85,2.46],[2.97,2.55],[2.66,2.4],[2.84,2.38],[2.69,2.25],[2.32,2.3],[2.27,1.91],[2.2,2.01],[2.2,1.86],[2.37,1.81],[2.47,1.78],[2.72,1.78],[2.89,1.85],[2.6,1.67],[2.54,1.54],[2.42,1.42],[2.58,1.37],[2.68,1.28],[1.67,2.38],[1.79,2.23],[1.41,2.62],[1.63,2.49],[1.74,2.59],[0.86,2.82],[1.22,2.82],[1.3,2.89],[1.39,2.89],[0.9,2.98],[0.97,2.72],[0.95,2.64],[0.32,3.29],[0.78,3.45],[2.83,-0.83],[2.9,0.6],[2.85,0.8],[2.95,0.3],[2.9,0.1],[2.52,-1.06]];
const bOrangeDots=[[-0.97,1.13],[-0.92,1.07],[-0.87,1.03],[-0.66,0.94],[-0.47,1.05],[-0.02,1.27],[-0.72,-0.98],[0.94,0.98],[1.22,0.96],[1.28,0.98],[1.33,0.99],[1.35,-0.07],[1.27,-0.17],[1.3,0.65],[0.95,0.55],[-1.24,-0.73],[-0.97,-0.6],[-1.03,-0.85],[-0.9,-0.9],[0.85,-0.75],[1.15,-0.72],[1.14,-0.8],[1.02,-0.9],[-0.97,-0.92],[-0.98,0.62],[1.26,-0.65],[1.14,-0.47]];
const bYellowDots=[[-0.58,0.42],[-0.66,0.2],[0.55,-0.17],[0.67,-0.25],[0.22,0.6],[0.22,0.82]];

// ---- helpers that hand the arrays above to Plot ----
const px=d=>d[0],py=d=>d[1];
const poly=(pts,fill,curve="linear")=>Plot.line(pts,{x:px,y:py,fill,stroke:"none",curve,clip:true});
const rows=(list)=>list.flatMap((pts,i)=>pts.map(p=>({x:p[0],y:p[1],z:i})));
const lines=(list,stroke,closed,w=4.5)=>Plot.line(rows(list),{x:"x",y:"y",z:"z",stroke,strokeWidth:w,curve:closed?"catmull-rom-closed":"catmull-rom",strokeLinejoin:"round",strokeLinecap:"round",clip:true});
const dots=(pts,fill,r=4)=>Plot.dot(pts,{x:px,y:py,r,fill,stroke:"none",clip:true});
const rays=(segs,stroke,w=5.5,dash="10 3")=>Plot.link(segs,{x1:d=>d[0],y1:d=>d[1],x2:d=>d[2],y2:d=>d[3],stroke,strokeWidth:w,strokeDasharray:dash,clip:true});
const strip=(layers)=>layers.map(([fill,b])=>Plot.area(stripX.map((x,i)=>({x,top:-1,y:b[i]})),{x1:"x",y1:"top",y2:"y",fill}));
const fillBox=(fill,y1,y2)=>Plot.rect([0],{x1:()=>-3,x2:()=>3,y1:()=>y1,y2:()=>y2,fill});

const TXT=26,TITLE=27.5,CBTITLE=28.2;
function frameMarks(){return [
  Plot.axisX(xTicks,{anchor:"bottom",tickSize:-13,tickFormat:()=>"",label:null}),
  Plot.axisX(xTicks,{anchor:"top",tickSize:-13,tickFormat:()=>"",label:null}),
  Plot.axisY(yTicks,{anchor:"left",tickSize:-13,tickFormat:()=>"",label:null}),
  Plot.axisY(yTicks,{anchor:"right",tickSize:-13,tickFormat:()=>"",label:null}),
  Plot.axisX(xTicks,{anchor:"bottom",tickSize:0,tickPadding:16,tickFormat:d=>d.toFixed(1),fontSize:TXT,label:null}),
  Plot.axisY(yTicks,{anchor:"left",tickSize:0,tickPadding:12,tickFormat:d=>d.toFixed(1),fontSize:TXT,label:null}),
  Plot.text(["y-coordinate [m]"],{x:()=>0,y:()=>-1.5,dy:96,text:d=>d,fontSize:TITLE,fill:"#000",clip:false}),
  Plot.text(["x-coordinate [m]"],{x:()=>-3,y:()=>1.25,dx:-106,rotate:-90,text:d=>d,fontSize:TITLE,fill:"#000"}),
  Plot.frame({stroke:"#000",strokeWidth:1.5})];}
function legendMarks(labels,colors,rowsY,y2){return [
  Plot.rect([0],{x1:()=>1.98,x2:()=>2.96,y1:()=>y2,y2:()=>3.96,fill:"#fff",stroke:"#000",strokeWidth:1.5}),
  Plot.text(labels,{x:()=>2.665,y:(d,i)=>rowsY[i],text:d=>d,textAnchor:"end",fontSize:27,fill:"#000"}),
  Plot.link(labels,{x1:()=>2.685,x2:()=>2.92,y1:(d,i)=>rowsY[i],y2:(d,i)=>rowsY[i],stroke:(d,i)=>colors[i],strokeWidth:4,strokeLinecap:"round"})];}
function panel(marks){return Plot.plot({width:1405,height:1423,marginLeft:137,marginRight:40,marginTop:40,marginBottom:257,
  style:{fontFamily:"'DejaVu Sans'",fontSize:"26px",background:"transparent"},
  x:{domain:[-3,3],label:null},y:{domain:[-1.5,4],label:null},marks});}
function colorbar(){const bands=cbColors.map((c,i)=>({c,lo:cbLevels[i],hi:cbLevels[i+1]}));
  return Plot.plot({width:220,height:1423,marginLeft:15,marginRight:144,marginTop:40,marginBottom:257,
  style:{fontFamily:"'DejaVu Sans'",fontSize:"26px",background:"transparent"},
  x:{domain:[0,1],axis:null},y:{type:"log",domain:[1,100000],label:null,axis:null},
  marks:[Plot.rect(bands,{x1:()=>0,x2:()=>1,y1:"lo",y2:"hi",fill:"c"}),
   Plot.axisY(cbMajor,{anchor:"left",tickSize:-9,tickFormat:()=>"",label:null}),
   Plot.axisY(cbMinor,{anchor:"left",tickSize:-5,tickFormat:()=>"",label:null}),
   Plot.axisY(cbMinor,{anchor:"right",tickSize:-5,tickFormat:()=>"",label:null}),
   Plot.axisY(cbMajor,{anchor:"right",tickSize:-9,tickFormat:()=>"",label:null}),
   Plot.text(cbMajor,{x:()=>1,y:d=>d,dx:9,text:()=>"10",textAnchor:"start",fontSize:25.5,fill:"#000"}),
   Plot.text(cbMajor,{x:()=>1,y:d=>d,dx:43,dy:-13,text:(d,i)=>cbExponents[i],textAnchor:"start",fontSize:18,fill:"#000"}),
   Plot.text(["Residual Ambient Dose Equivalent Rate [μSv/h]"],{x:()=>1,y:()=>326,dx:88,rotate:-90,text:d=>d,fontSize:CBTITLE,fill:"#000"}),
   Plot.frame({stroke:"#000",strokeWidth:1.5})]});}

const panelA=panel([
  fillBox("#7fff00",-1,4),
  poly(aCornerL,"#00e832"),poly(aCornerR,"#00e832"),
  Plot.dot(aDarkCells,{x:px,y:py,symbol:"square",r:3,fill:"#00e832",clip:true}),
  poly(aBand220,"#ccff00"),poly(aBand500,"#ffff00"),
  poly(aContour1m,"#ffcc00","catmull-rom-closed"),poly(aContour2m,"#ff7f00","catmull-rom-closed"),
  poly(aCoreBlob,"#ffcc00"),
  Plot.rect(aRedCells,{x1:d=>d[0],x2:d=>d[1],y1:d=>d[2],y2:d=>d[3],fill:"#ff0000"}),
  fillBox("#0000c8",-1.5,-1),...strip(aStrip),
  Plot.ruleY([-1],{stroke:"#000",strokeWidth:1.5}),
  Plot.dot([[0,0]],{x:px,y:py,r:71.5,stroke:"#000",strokeWidth:1.2,fill:"none"}),
  Plot.dot([[0,0]],{x:px,y:py,r:74,stroke:"#000",strokeWidth:1.2,fill:"none"}),
  lines([aContour1m],SKY,true),lines([aContour2m],PURPLE,true),lines([aCoreContour],PURPLE,true),
  lines([aYellow100],YEL,false),lines([aOrange50],ORG,false),lines([aRed10],RED,false),
  lines(aYellowPaths,YEL,false),lines(aYellowLoops,YEL,true),dots(aYellowDots,YEL,4),
  ...legendMarks(legendA,legendAColors,legendARows,3.05),
  ...frameMarks()]);

const panelB=panel([
  fillBox("#0099ff",-1,4),
  poly(bBlueBlock,"#0000ff"),rays(bBlueRays,"#0000ff",5.5,"6 6"),
  rays(bSkyRays,"#00ccff",5.5,"14 4"),
  poly(bBand10,"#00ccff"),rays(bGreenRays,"#00b27f",5,"16 3"),
  poly(bBand22,"#00b27f"),
  poly(bOrange50,"#00e832","catmull-rom-closed"),poly(bYellow100,"#7fff00","catmull-rom-closed"),
  poly(bBand220,"#ccff00"),poly(bBand500,"#ffff00"),
  poly(bSky1m,"#ffcc00","catmull-rom-closed"),
  fillBox("#0000c8",-1.5,-1),...strip(bStrip),
  Plot.ruleY([-1],{stroke:"#000",strokeWidth:1.5}),
  Plot.dot([[0,0]],{x:px,y:py,r:71,stroke:"#000",strokeWidth:1.2,fill:"none"}),
  lines([bOrange50],ORG,true),dots(bOrangeDots,ORG,4.5),
  lines([bYellow100],YEL,true),dots(bYellowDots,YEL,4),
  lines([bSky1m,bSkyInner],SKY,true),dots(bSkyDots,SKY,4),
  lines(bRedLoops,RED,true),lines(bRedPaths,RED,false),lines([bRedBase],RED,false),dots(bRedDots,RED,4.5),
  ...legendMarks(legendB,legendBColors,legendBRows,3.194),
  ...frameMarks()]);

const stage=document.getElementById("stage");
function place(el,left){el.style.left=left+"px";stage.appendChild(el);}
place(panelA,0);place(colorbar(),1380);
place(panelB,1655);place(colorbar(),3035);
const capA=document.createElement("div");capA.className="cap";capA.style.left="786px";capA.innerHTML="(<b>a</b>)";stage.appendChild(capA);
const capB=document.createElement("div");capB.className="cap";capB.style.left="2442px";capB.innerHTML="(<b>b</b>)";stage.appendChild(capB);
</script></body></html>
